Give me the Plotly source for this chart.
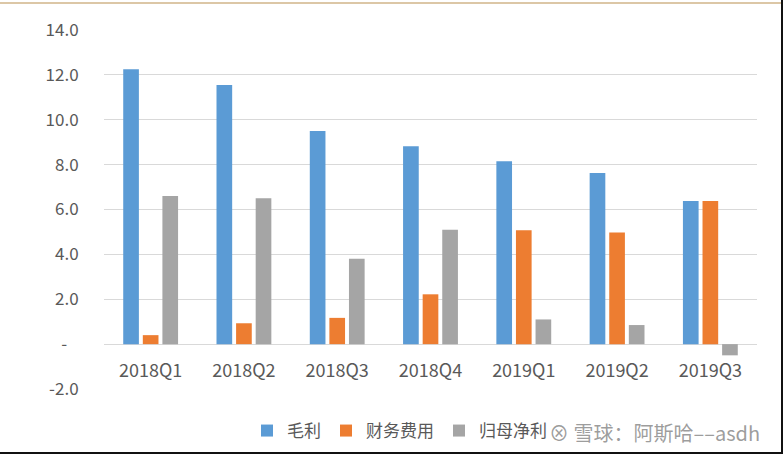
import plotly.graph_objects as go

categories = ["2018Q1", "2018Q2", "2018Q3", "2018Q4", "2019Q1", "2019Q2", "2019Q3"]
gross_profit = [12.25, 11.55, 9.5, 8.82, 8.15, 7.63, 6.38]
finance_cost = [0.4, 0.93, 1.17, 2.22, 5.08, 4.98, 6.38]
net_profit = [6.6, 6.5, 3.8, 5.1, 1.1, 0.85, -0.5]
series_names = ["毛利", "财务费用", "归母净利"]
y_tickvals = [-2, 0, 2, 4, 6, 8, 10, 12, 14]
y_ticktext = ["-2.0", "-\u00a0\u00a0\u00a0", "2.0", "4.0", "6.0", "8.0", "10.0", "12.0", "14.0"]

colors = ["#5B9BD5", "#ED7D31", "#A5A5A5"]
FONT = "Noto Sans CJK SC"

fig = go.Figure()
for name, vals, c in zip(series_names, [gross_profit, finance_cost, net_profit], colors):
    fig.add_trace(go.Bar(x=categories, y=vals, name=name, marker=dict(color=c, line=dict(width=0))))

L, R, T, B = 104, 26, 30, 65
W, H = 783, 454
pw, ph = W - L - R, H - T - B

fig.update_layout(
    width=W, height=H,
    margin=dict(l=L, r=R, t=T, b=B, autoexpand=False),
    paper_bgcolor="white", plot_bgcolor="white",
    barmode="group", bargap=0.37, bargroupgap=0.2,
    font=dict(family=FONT, color="#595959", size=16),
    showlegend=True,
    legend=dict(orientation="h", xref="container", yref="container",
                x=247 / W, xanchor="left", y=1 - 431 / H, yanchor="middle",
                font=dict(size=17, color="#595959"), itemwidth=30, traceorder="normal",
                bgcolor="rgba(0,0,0,0)", tracegroupgap=0),
    xaxis=dict(anchor="free", position=2 / 16, showline=False, showgrid=False, zeroline=False,
               ticks="outside", ticklen=10, tickcolor="rgba(0,0,0,0)",
               tickfont=dict(size=18, color="#595959")),
    yaxis=dict(range=[-2, 14], tickvals=y_tickvals, ticktext=y_ticktext, showgrid=True,
               gridcolor="#D9D9D9", gridwidth=1, zeroline=True, zerolinecolor="#D9D9D9", zerolinewidth=1,
               ticks="outside", ticklen=21, tickcolor="rgba(0,0,0,0)",
               tickfont=dict(size=17, color="#595959"), showline=False),
)

def px_x(x):
    return (x - L) / pw

def px_y(y):
    return (H - B - y) / ph

shapes = [
    dict(type="line", xref="paper", yref="paper", x0=px_x(0), x1=px_x(W), y0=px_y(3), y1=px_y(3),
         line=dict(color="#DCC7A6", width=2)),
    dict(type="line", xref="paper", yref="paper", x0=px_x(0), x1=px_x(W), y0=px_y(453), y1=px_y(453),
         line=dict(color="#111111", width=2)),
    dict(type="line", xref="paper", yref="paper", x0=px_x(782), x1=px_x(782), y0=px_y(0), y1=px_y(454),
         line=dict(color="#111111", width=2)),
]
fig.update_layout(shapes=shapes)

fig.add_annotation(xref="paper", yref="paper", x=px_x(762), y=px_y(432), xanchor="right", yanchor="middle",
                   text="⊗ 雪球：阿斯哈––asdh", showarrow=False,
                   font=dict(family=FONT, size=20, color="rgba(140,140,140,0.85)"),
                   bgcolor="rgba(255,255,255,0.55)")

fig.write_html("out.html")
